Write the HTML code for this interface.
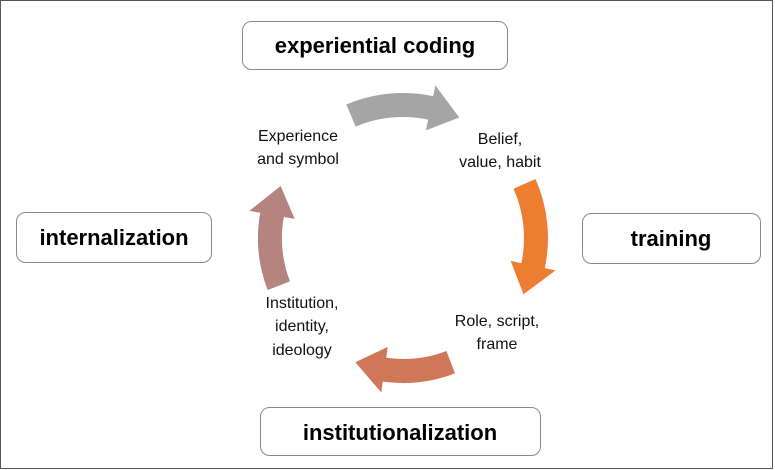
<!DOCTYPE html>
<html><head><meta charset="utf-8"><style>
body{margin:0;background:#fff}
svg{display:block}
.b{font-family:"Liberation Sans",sans-serif;font-weight:bold;font-size:22px;fill:#000}
.s{font-family:"Liberation Sans",sans-serif;font-size:16px;fill:#111}
</style></head><body>
<svg id="g" width="775" height="470" viewBox="0 0 775 470">
<rect x="0.5" y="0.5" width="772" height="468" fill="#fff" stroke="#555" stroke-width="1"/>
<g fill="#fff" stroke="#8a8a8a" stroke-width="1">
<rect x="242.5" y="21.5" width="265" height="48" rx="9"/>
<rect x="16.5" y="212.5" width="195" height="50" rx="9"/>
<rect x="582.5" y="213.5" width="178" height="50" rx="9"/>
<rect x="260.5" y="407.5" width="280" height="48" rx="9"/>
</g>
<text class="b" x="375" y="53" text-anchor="middle">experiential coding</text>
<text class="b" x="114" y="245" text-anchor="middle">internalization</text>
<text class="b" x="671" y="246" text-anchor="middle">training</text>
<text class="b" x="400" y="440" text-anchor="middle">institutionalization</text>
<g class="s" text-anchor="middle">
<text x="298" y="141">Experience</text><text x="298" y="164">and symbol</text>
<text x="500" y="144">Belief,</text><text x="500" y="167">value, habit</text>
<text x="497" y="326">Role, script,</text><text x="497" y="349">frame</text>
<text x="302" y="308">Institution,</text><text x="302" y="331">identity,</text><text x="302" y="355">ideology</text>
</g>
<path id="a1" fill="#a5a5a5"/>
<path id="a2" fill="#ed7d31"/>
<path id="a3" fill="#d0775a"/>
<path id="a4" fill="#b5847e"/>
</svg>
<script>
var cx=403,cy=238,r=133;
function P(rad,deg){var t=deg*Math.PI/180;return (cx+rad*Math.sin(t)).toFixed(1)+","+(cy-rad*Math.cos(t)).toFixed(1);}
function arrow(id,a0,a1,a2){
 var ro=r+12,ri=r-12,ho=r+23,hi=r-23;
 var d="M"+P(ro,a0)+" A"+ro+","+ro+" 0 0 1 "+P(ro,a1)+" L"+P(ho,a1)+" L"+P(r,a2)+" L"+P(hi,a1)+" L"+P(ri,a1)+" A"+ri+","+ri+" 0 0 0 "+P(ri,a0)+" Z";
 document.getElementById(id).setAttribute("d",d);
}
arrow("a1",-23,12,25);
arrow("a2",66,102,115);
arrow("a3",159,188,201);
arrow("a4",249,280,293);
</script>
</body></html>
